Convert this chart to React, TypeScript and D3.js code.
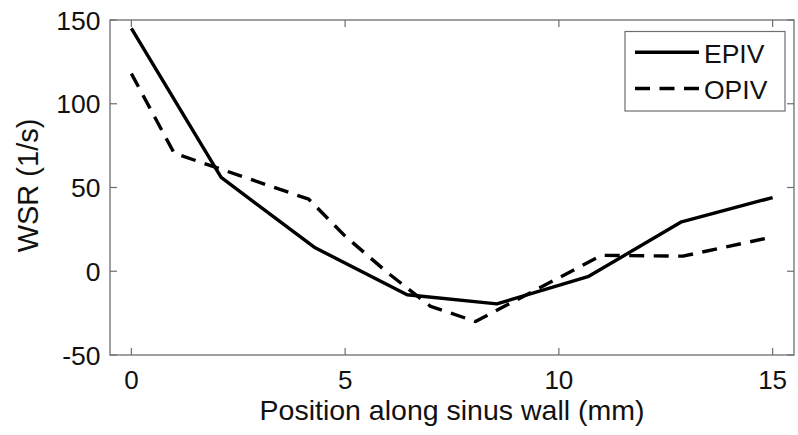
import React from "react";
import * as d3 from "d3";

const xTicks = [0, 5, 10, 15];
const yTicks = [-50, 0, 50, 100, 150];

const epivX = [0, 2.1, 4.3, 6.45, 8.55, 10.7, 12.87, 15];
const epivY = [145, 56, 14, -14, -19.5, -3, 29.5, 44];

const opivX = [0, 1, 4.15, 5, 6, 7, 8.05, 11, 12.9, 15];
const opivY = [118, 70.5, 43, 21, -1, -21, -30, 9.5, 9, 20.5];

const seriesNames = ["EPIV", "OPIV"];

const W = 798;
const H = 435;
const left = 110;
const right = 794;
const top = 20;
const bottom = 355;
const font = "'Liberation Sans', Arial, Helvetica, sans-serif";
const axisColor = "#6e6e6e";

export default function App() {
  const x = d3.scaleLinear().domain([-0.5, 15.5]).range([left, right]);
  const y = d3.scaleLinear().domain([-50, 150]).range([bottom, top]);

  const line = d3
    .line<[number, number]>()
    .x((d) => x(d[0]))
    .y((d) => y(d[1]));

  const epiv = epivX.map((v, i) => [v, epivY[i]] as [number, number]);
  const opiv = opivX.map((v, i) => [v, opivY[i]] as [number, number]);

  const tickLen = 7;

  return (
    <svg
      width={W}
      height={H}
      style={{ position: "absolute", left: 0, top: 0, background: "#fff" }}
    >
      <rect x={0} y={0} width={W} height={H} fill="#fff" />
      <rect
        x={left}
        y={top}
        width={right - left}
        height={bottom - top}
        fill="none"
        stroke={axisColor}
        strokeWidth={1.3}
      />
      {xTicks.map((t) => (
        <g key={"xt" + t}>
          <line x1={x(t)} x2={x(t)} y1={bottom} y2={bottom - tickLen} stroke={axisColor} strokeWidth={1.2} />
          <line x1={x(t)} x2={x(t)} y1={top} y2={top + tickLen} stroke={axisColor} strokeWidth={1.2} />
          <text
            x={x(t)}
            y={388.5}
            textAnchor="middle"
            fontFamily={font}
            fontSize={26}
            fill="#111"
          >
            {t}
          </text>
        </g>
      ))}
      {yTicks.map((t) => (
        <g key={"yt" + t}>
          <line x1={left} x2={left + tickLen} y1={y(t)} y2={y(t)} stroke={axisColor} strokeWidth={1.2} />
          <line x1={right} x2={right - tickLen} y1={y(t)} y2={y(t)} stroke={axisColor} strokeWidth={1.2} />
          <text
            x={100.5}
            y={y(t) + 9.5}
            textAnchor="end"
            fontFamily={font}
            fontSize={26.5}
            fill="#111"
          >
            {t}
          </text>
        </g>
      ))}
      <path d={line(epiv) || ""} fill="none" stroke="#000" strokeWidth={3.4} strokeLinejoin="round" />
      <path
        d={line(opiv) || ""}
        fill="none"
        stroke="#000"
        strokeWidth={3.4}
        strokeDasharray="15,9.5"
        strokeLinejoin="round"
      />
      <text
        x={(left + right) / 2}
        y={420}
        textAnchor="middle"
        fontFamily={font}
        fontSize={28.5}
        fill="#111"
      >
        Position along sinus wall (mm)
      </text>
      <text
        transform={`translate(38, ${(top + bottom) / 2 - 2}) rotate(-90)`}
        textAnchor="middle"
        fontFamily={font}
        fontSize={29}
        fill="#111"
      >
        WSR (1/s)
      </text>
      <rect x={625} y={31.5} width={160} height={79.5} fill="#fff" stroke={axisColor} strokeWidth={1.2} />
      <line x1={635} x2={699} y1={52.3} y2={52.3} stroke="#000" strokeWidth={3.4} />
      <line x1={635} x2={699} y1={88.5} y2={88.5} stroke="#000" strokeWidth={3.4} strokeDasharray="15,9.5" />
      <text x={704} y={62.5} fontFamily={font} fontSize={26.5} fill="#111">
        {seriesNames[0]}
      </text>
      <text x={704} y={98.5} fontFamily={font} fontSize={26.5} fill="#111">
        {seriesNames[1]}
      </text>
    </svg>
  );
}
